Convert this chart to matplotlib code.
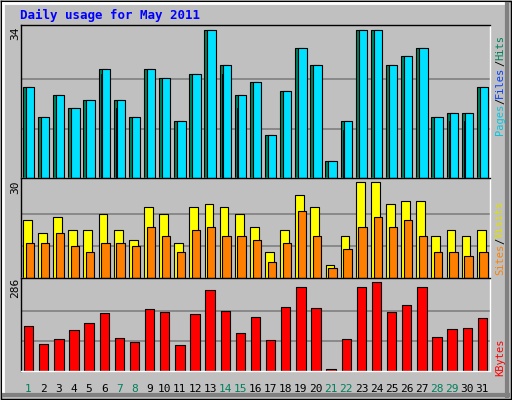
import matplotlib
matplotlib.use("Agg")
import matplotlib.pyplot as plt
import numpy as np

days = list(range(1, 32))
hits  = [21,14,19,16,18,25,18,14,25,23,13,24,34,26,19,22,10,20,30,26,4,13,34,34,26,28,30,14,15,15,21]
files = [19,12,16,15,16,24,16,13,24,22,12,22,25,24,16,20,9,18,27,23,3,11,30,30,23,25,27,12,13,13,19]
pages = hits
visits = [18,14,19,15,15,20,15,12,22,20,11,22,23,22,20,16,8,15,26,22,4,13,30,30,23,24,24,13,15,13,15]
sites  = [11,11,14,10,8,11,11,10,16,13,8,15,16,13,13,12,5,11,21,13,3,9,16,19,16,18,13,8,8,7,8]
kbytes = [145,87,101,131,155,185,104,94,199,188,84,182,259,192,121,172,98,205,269,202,5,101,269,286,188,212,269,108,135,138,168]
weekend = [1,7,8,14,15,21,22,28,29]

W, H = 512, 400
fig = plt.figure(figsize=(W/100, H/100), dpi=100)
fig.patch.set_facecolor("#C0C0C0")
mono = "DejaVu Sans Mono"

bg = fig.add_axes([0, 0, 1, 1]); bg.set_xlim(0, W); bg.set_ylim(H, 0); bg.axis("off")
bg.plot([1, W-1, W-1, 1, 1], [1, 1, H-1, H-1, 1], color="black", lw=1)
bg.plot([3, W-6], [3, 3], color="white", lw=2)
bg.plot([3, 3], [3, H-6], color="white", lw=2)
bg.plot([W-5, W-5], [4, H-4], color="#808080", lw=3)
bg.plot([4, W-4], [H-5, H-5], color="#808080", lw=3)

x = np.array(days)
def panel(top, bot):
    ax = fig.add_axes([21/W, 1-bot/H, 469/W, (bot-top)/H])
    ax.set_facecolor("#C0C0C0")
    ax.set_xlim(0.5, 31.5)
    ax.set_xticks([]); ax.set_yticks([])
    for s in ax.spines.values():
        s.set_color("black"); s.set_linewidth(1)
    ax.spines["bottom"].set_color("white"); ax.spines["right"].set_color("white")
    return ax

ax1 = panel(25, 178)
m = max(hits)
ax1.set_ylim(0, m*1.035)
for g in (m/3, 2*m/3):
    ax1.axhline(g, color="#808080", lw=1.2, zorder=0)
ax1.bar(x-0.1, hits, width=0.55, color="#00805C", edgecolor="black", lw=0.8, zorder=2)
ax1.bar(x-0.1, files, width=0.18, color="#0040FF", edgecolor="black", lw=0.6, zorder=3)
ax1.bar(x+0.1, pages, width=0.55, color="#00E0FF", edgecolor="black", lw=0.8, zorder=4)

ax2 = panel(178, 278)
m2 = max(visits)
ax2.set_ylim(0, m2*1.04)
for g in (m2/3, 2*m2/3):
    ax2.axhline(g, color="#808080", lw=1.2, zorder=0)
ax2.bar(x-0.08, visits, width=0.58, color="#FFFF00", edgecolor="black", lw=0.8, zorder=2)
ax2.bar(x+0.08, sites, width=0.55, color="#FF8000", edgecolor="black", lw=0.8, zorder=3)

ax3 = panel(278, 371)
m3 = max(kbytes)
ax3.set_ylim(0, m3*1.04)
for g in (m3/3, 2*m3/3):
    ax3.axhline(g, color="#808080", lw=1.2, zorder=0)
ax3.bar(x, kbytes, width=0.62, color="#FF0000", edgecolor="black", lw=0.8, zorder=2)

for d in days:
    xp = 21 + (d-0.5)/31*469
    fig.text(xp/W, 1-389/H, str(d), ha="center", va="center", fontsize=8, family=mono,
             color="#00805C" if d in weekend else "black")

fig.text(20/W, 1-15/H, "Daily usage for May 2011", fontsize=9, family=mono, weight="bold",
         color="#0000FF", ha="left", va="center")
fig.text(15/W, 1-33/H, str(max(hits)), rotation=90, fontsize=8, family=mono, ha="center", va="center")
fig.text(15/W, 1-187/H, str(max(visits)), rotation=90, fontsize=8, family=mono, ha="center", va="center")
fig.text(15/W, 1-288/H, str(max(kbytes)), rotation=90, fontsize=8, family=mono, ha="center", va="center")

renderer = fig.canvas.get_renderer()
def rlabel(parts, ybot):
    y = ybot
    for txt, col in parts:
        t = fig.text(500/W, 1-y/H, txt, rotation=90, fontsize=7.5, family=mono, color=col,
                     ha="center", va="bottom")
        ext = t.get_window_extent(renderer)
        y -= ext.height
rlabel([("Pages", "#00C8E0"), ("/", "black"), ("Files", "#0040FF"), ("/", "black"), ("Hits", "#00805C")], 135)
rlabel([("Sites", "#FF8000"), ("/", "black"), ("Visits", "#E0E000")], 275)
rlabel([("KBytes", "#FF0000")], 376)

fig.savefig("out.png", dpi=100, facecolor=fig.get_facecolor())
